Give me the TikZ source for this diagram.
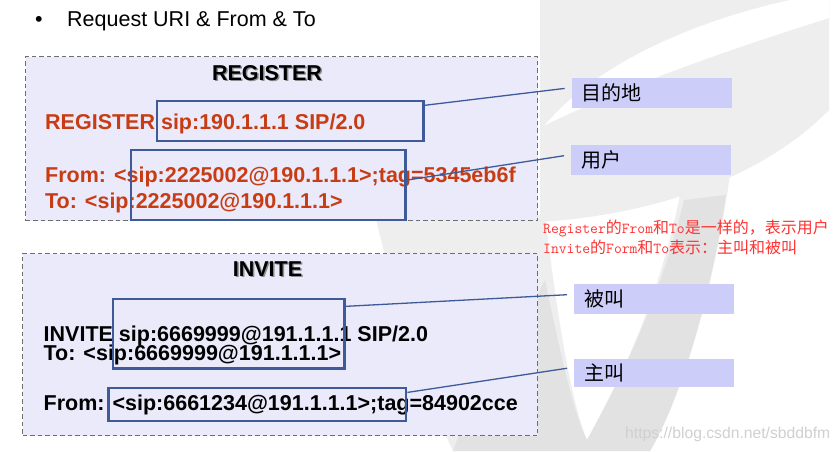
\documentclass[tikz,border=0pt]{standalone}
\usepackage{fontspec}
\setmainfont{Liberation Sans}
\newfontfamily\cjk{Noto Sans CJK SC}
\usetikzlibrary{calc}
\definecolor{boxfill}{RGB}{234,234,251}
\definecolor{lblfill}{RGB}{205,205,250}
\definecolor{hlblue}{RGB}{63,90,153}
\definecolor{sipred}{RGB}{200,60,20}
\definecolor{notered}{RGB}{255,50,50}
\definecolor{dashgray}{RGB}{110,110,110}
\definecolor{wmlight}{RGB}{238,238,238}
\definecolor{wmdark}{RGB}{226,226,226}
\definecolor{wmtext}{RGB}{208,208,208}
\newcommand{\latm}[1]{{\ttfamily\fontsize{15.2}{18}\selectfont #1}}
\begin{document}
\begin{tikzpicture}[x=1pt,y=-1pt,
  msgbox/.style={draw=dashgray, dash pattern=on 4.5pt off 3pt, line width=1.1pt, fill=boxfill},
  hlbox/.style={draw=hlblue, line width=2.4pt, inner sep=0pt, anchor=north west},
  lblbox/.style={fill=lblfill, anchor=north west, inner xsep=10pt, inner ysep=0pt, text width=140pt, align=left, minimum height=30pt, font=\cjk\fontsize{20}{22}\selectfont},
  sipline/.style={font=\bfseries\fontsize{21.5}{24}\selectfont, anchor=base west, inner sep=0pt},
  ttl/.style={font=\bfseries\fontsize{21.5}{24}\selectfont, anchor=base, inner sep=0pt},
  ttlshadow/.style={ttl, text=black!45},
  conn/.style={draw=hlblue, line width=1.3pt},
  note/.style={text=notered, anchor=base west, inner sep=0pt, font=\cjk\fontsize{16}{18}\selectfont}
]
\useasboundingbox (0,0) rectangle (839,451);
\fill[white] (0,0) rectangle (839,451);

% faint background logo
\fill[wmlight] (540,0) -- (829,0) -- (829,110) .. controls (760,180) and (650,215) .. (540,222) -- cycle;
\fill[white] (545,125) .. controls (600,60) and (700,20) .. (790,0) -- (829,0) -- (829,18) .. controls (760,40) and (650,75) .. (545,125) -- cycle;
\fill[wmlight] (453,451) .. controls (420,380) and (395,300) .. (375,215) -- (545,215)
  .. controls (555,300) and (570,400) .. (587,440)
  .. controls (620,380) and (660,300) .. (682,185) -- (730,175)
  .. controls (712,300) and (680,400) .. (650,451) -- cycle;
\fill[wmdark] (453,451) .. controls (470,400) and (520,330) .. (545,280)
  .. controls (560,350) and (572,410) .. (587,440)
  .. controls (620,380) and (660,300) .. (684,200) -- (726,195)
  .. controls (710,300) and (680,400) .. (650,451) -- cycle;
\node[font=\fontsize{15.7}{18}\selectfont, text=wmtext, anchor=base west, inner sep=0pt] (wm) at (625,438) {https://blog.csdn.net/sbddbfm};

% heading
\node[font=\fontsize{21.5}{24}\selectfont, anchor=base west, inner sep=0pt] (bul) at (35,26) {\textbullet};
\node[font=\fontsize{21.5}{24}\selectfont, anchor=base west, inner sep=0pt] (head) at (67,26) {Request URI \& From \& To};

% message boxes
\node[msgbox, anchor=north west, minimum width=512pt, minimum height=164pt, inner sep=0pt] (reg) at (25,56) {};
\node[msgbox, anchor=north west, minimum width=515pt, minimum height=182pt, inner sep=0pt] (inv) at (22,253) {};

% titles with shadow
\node[ttlshadow] (regs) at (268.5,81.5) {REGISTER};
\node[ttl] (regt) at (267,80) {REGISTER};
\node[ttlshadow] (invs) at (269,277.5) {INVITE};
\node[ttl] (invt) at (267.5,276) {INVITE};

% register lines
\node[sipline, text=sipred] (rl1) at (45,129.3) {REGISTER sip:190.1.1.1 SIP/2.0};
\node[sipline, text=sipred] (rl2) at (45,182.7) {From: <sip:2225002@190.1.1.1>;tag=5345eb6f};
\node[sipline, text=sipred] (rl3) at (45,208.3) {To: <sip:2225002@190.1.1.1>};

% invite lines
\node[sipline] (il1) at (43.5,341) {INVITE sip:6669999@191.1.1.1 SIP/2.0};
\node[sipline] (il2) at (43.5,360.7) {To: <sip:6669999@191.1.1.1>};
\node[sipline] (il3) at (43.5,410.7) {From: <sip:6661234@191.1.1.1>;tag=84902cce};

% highlight rectangles
\node[hlbox, minimum width=266.6pt, minimum height=40pt] (r1) at (155.7,100) {};
\node[hlbox, minimum width=274.3pt, minimum height=70pt] (r2) at (130,149) {};
\node[hlbox, minimum width=231.6pt, minimum height=69.6pt] (r3) at (111.7,297.7) {};
\node[hlbox, minimum width=297.7pt, minimum height=33.3pt] (r4) at (107.3,386.7) {};

% labels
\node[lblbox] (l1) at (571.7,77.7) {目的地};
\node[lblbox] (l2) at (571,145) {用户};
\node[lblbox, minimum height=30pt] (l3) at (574,284) {被叫};
\node[lblbox, minimum height=28.5pt] (l4) at (574,358.3) {主叫};

% connectors
\draw[conn] ($(r1.north east)!0.125!(r1.south east)$) -- ($(l1.west)+(-7,-4.5)$);
\draw[conn] ($(r2.north east)!0.43!(r2.south east)$) -- ($(l2.west)+(-7,-4.5)$);
\draw[conn] ($(r3.north east)!0.12!(r3.south east)$) -- ($(l3.west)+(-7,-4.5)$);
\draw[conn] ($(r4.north east)!0.16!(r4.south east)$) -- ($(l4.west)+(-7,-4.5)$);

% red note
\node[note] (n1) at (543,233) {\latm{Register}的\latm{From}和\latm{To}是一样的，表示用户};
\node[note] (n2) at (543,253) {\latm{Invite}的\latm{Form}和\latm{To}表示：主叫和被叫};
\end{tikzpicture}
\end{document}
